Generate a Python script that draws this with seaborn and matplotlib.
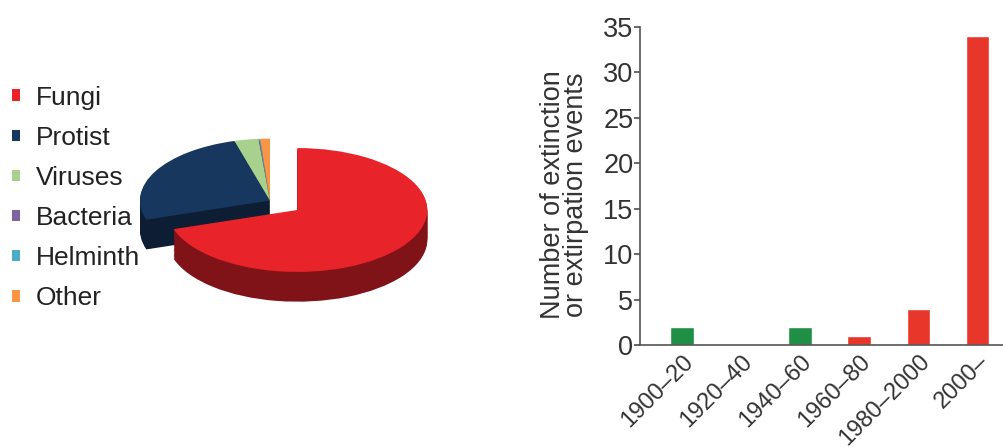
"""Extinction/extirpation events: pathogen share (pie) and events by period (bars)."""

import matplotlib

matplotlib.use("Agg")
import matplotlib.pyplot as plt
import matplotlib.colors as mcolors
import seaborn as sns

# pie data (percent of events by pathogen type)
pathogens = ["Fungi", "Protist", "Viruses", "Bacteria", "Helminth", "Other"]
pathogen_share = [70.0, 25.6, 3.0, 0.1, 0.1, 1.2]
pathogen_colors = ["#e8232a", "#17375e", "#a9d18e", "#8064a2", "#4bacc6", "#f79646"]

# bar data
periods = ["1900–20", "1920–40", "1940–60", "1960–80", "1980–2000", "2000–"]
event_counts = [2, 0, 2, 1, 4, 34]
period_colors = ["#1f8f46", "#1f8f46", "#1f8f46", "#e8372a", "#e8372a", "#e8372a"]

sns.set_theme(style="white")
plt.rcParams["font.family"] = ["Liberation Sans", "DejaVu Sans"]

fig = plt.figure(figsize=(10.04, 4.48), dpi=100)

# ---- pie, faked 3D by stacking darker layers underneath ----
ax_pie = fig.add_axes([0.1195, 0.2634, 0.3287, 0.46875])
explode = [0.26, 0, 0, 0, 0, 0]
dark = [mcolors.to_hex([c * 0.55 for c in mcolors.to_rgb(col)]) for col in pathogen_colors]
n_layers = 24
depth = 0.48
for k in range(n_layers, 0, -1):
    ax_pie.pie(
        pathogen_share,
        colors=dark,
        startangle=90,
        counterclock=False,
        explode=explode,
        center=(0, -depth * k / n_layers),
        wedgeprops=dict(linewidth=0),
    )
wedges, _ = ax_pie.pie(
    pathogen_share,
    colors=pathogen_colors,
    startangle=90,
    counterclock=False,
    explode=explode,
    wedgeprops=dict(linewidth=0),
)
ax_pie.set_aspect("auto")
ax_pie.set_xlim(-1.154, 1.385)
ax_pie.set_ylim(-2.09, 1.30)

fig.legend(
    wedges,
    pathogens,
    loc="upper left",
    bbox_to_anchor=(0.0, 0.835),
    borderaxespad=0,
    borderpad=0.45,
    frameon=False,
    fontsize=19,
    handlelength=0.3,
    handleheight=0.3,
    handletextpad=0.6,
    labelspacing=0.61,
    labelcolor="#222222",
)

# ---- bars ----
ax_bar = fig.add_axes([0.637, 0.23, 0.363, 0.71])
sns.barplot(
    x=periods,
    y=event_counts,
    hue=periods,
    palette=period_colors,
    width=0.4,
    legend=False,
    saturation=1,
    ax=ax_bar,
)
ax_bar.set_ylim(0, 35)
ax_bar.set_xlim(-0.72, 5.45)
ax_bar.set_yticks(range(0, 36, 5))
sns.despine(ax=ax_bar)
for side in ("left", "bottom"):
    ax_bar.spines[side].set_color("#555555")
    ax_bar.spines[side].set_linewidth(1.2)
ax_bar.tick_params(axis="y", left=True, length=4, color="#555555", labelsize=19.5,
                   labelcolor="#333333", pad=0.5)
ax_bar.tick_params(axis="x", bottom=False, labelsize=17, labelcolor="#333333", pad=-2)
plt.setp(ax_bar.get_xticklabels(), rotation=45, ha="right", rotation_mode="anchor")
ax_bar.set_ylabel("Number of extinction\nor extirpation events", fontsize=19.5,
                  color="#333333", linespacing=0.85)
ax_bar.yaxis.set_label_coords(-0.14, 0.472)

fig.savefig("out.png", dpi=100)
